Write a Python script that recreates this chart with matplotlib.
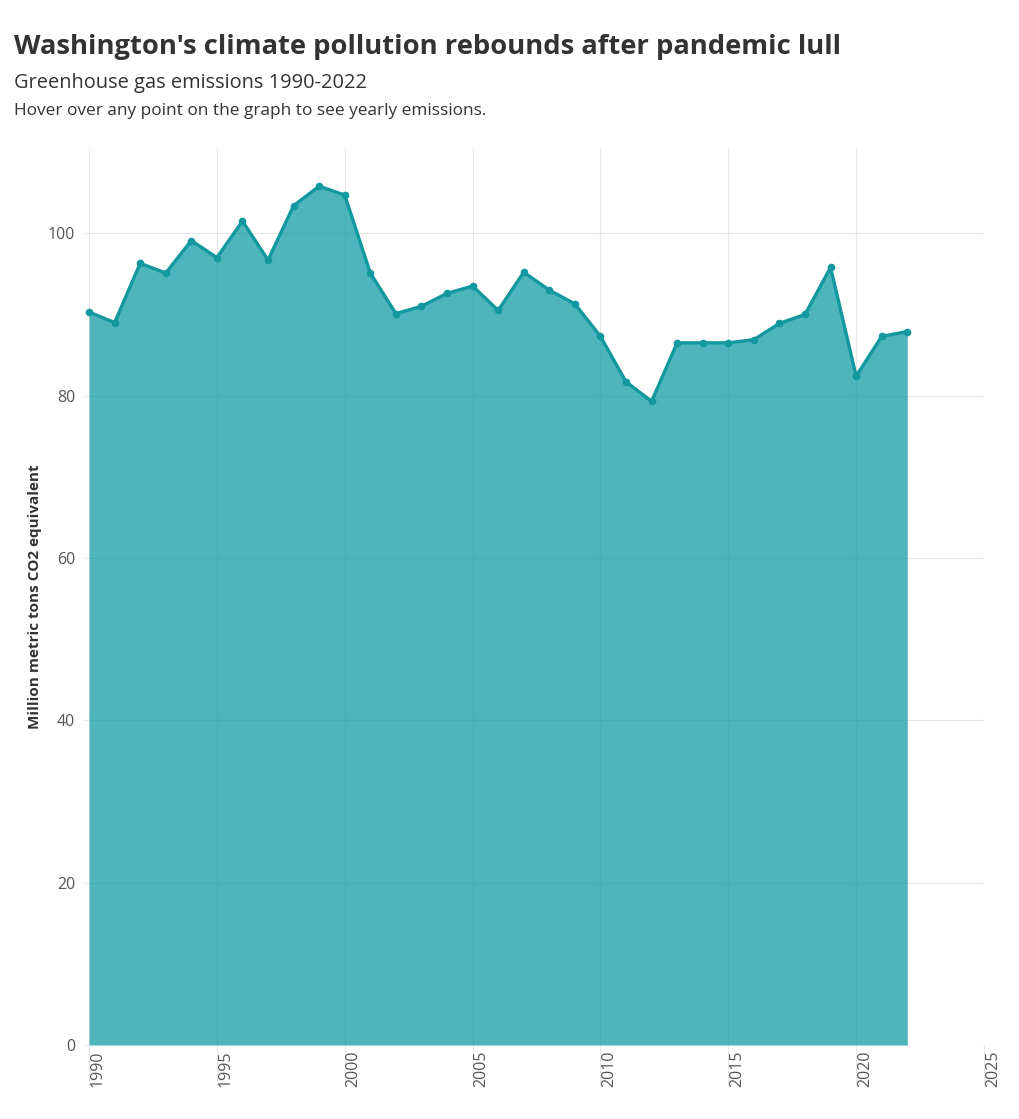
#!/usr/bin/env python3
"""Washington greenhouse gas emissions, 1990-2022 (area chart)."""

import matplotlib
matplotlib.use("Agg")
import matplotlib.pyplot as plt
import matplotlib.transforms as mtransforms

# emissions, million metric tons CO2 equivalent
years = list(range(1990, 2023))
emissions = [
    90.3, 89.0, 96.3, 95.1, 99.1, 97.0, 101.5, 96.7, 103.4, 105.8,
    104.7, 95.1, 90.1, 91.0, 92.6, 93.5, 90.5, 95.2, 93.0, 91.3,
    87.3, 81.7, 79.3, 86.5, 86.5, 86.5, 86.9, 88.9, 90.0, 95.8,
    82.4, 87.3, 87.9,
]
x_ticks = [1990, 1995, 2000, 2005, 2010, 2015, 2020, 2025]
y_ticks = [0, 20, 40, 60, 80, 100]

FONT = "Open Sans"
TEXT = "#333333"
TICK = "#555555"
GRID = "#e6e6e6"
LINE = "#12989e"
FILL = "#119ca5"

plt.rcParams["font.family"] = [FONT, "DejaVu Sans"]

fig = plt.figure(figsize=(10.2, 11.19), dpi=100)
ax = fig.add_axes([0.0873, 0.0661, 0.8774, 0.8016])

ax.fill_between(years, emissions, 0, color=FILL, alpha=0.75, linewidth=0, zorder=2)
ax.plot(years, emissions, color=LINE, linewidth=2.4, marker="o", markersize=4.5,
        zorder=3, clip_on=False)

ax.set_xlim(1990, 2025)
ax.set_ylim(0, 110.5)
ax.set_xticks(x_ticks)
ax.set_yticks(y_ticks)
ax.grid(True, color=GRID, linewidth=0.8, zorder=0)
ax.set_axisbelow(True)
for s in ax.spines.values():
    s.set_visible(False)

ax.tick_params(axis="y", length=4, width=0.8, color=GRID, labelsize=11.5,
               labelcolor=TICK, pad=6)
ax.tick_params(axis="x", length=30, width=0.8, color=GRID, labelsize=11.5,
               labelcolor=TICK, pad=-26)
ax.set_yticklabels([str(v) for v in y_ticks])
ax.set_xticklabels([str(v) for v in x_ticks], rotation=90, va="top", ha="center")
shift = mtransforms.ScaledTranslation(9 / 100, 0, fig.dpi_scale_trans)
for lab in ax.get_xticklabels():
    lab.set_transform(lab.get_transform() + shift)

ax.set_ylabel("Million metric tons CO2 equivalent", fontsize=11, fontweight="bold",
              color=TEXT, labelpad=4)

fig.text(14 / 1020, 1 - 47 / 1119, "Washington's climate pollution rebounds after pandemic lull",
         fontsize=19.7, fontweight="bold", color=TEXT, va="center", ha="left")
fig.text(14 / 1020, 1 - 83 / 1119, "Greenhouse gas emissions 1990-2022",
         fontsize=14.4, color=TEXT, va="center", ha="left")
fig.text(14 / 1020, 1 - 111 / 1119, "Hover over any point on the graph to see yearly emissions.",
         fontsize=12.4, color=TEXT, va="center", ha="left")

fig.savefig("out.png", dpi=100)
